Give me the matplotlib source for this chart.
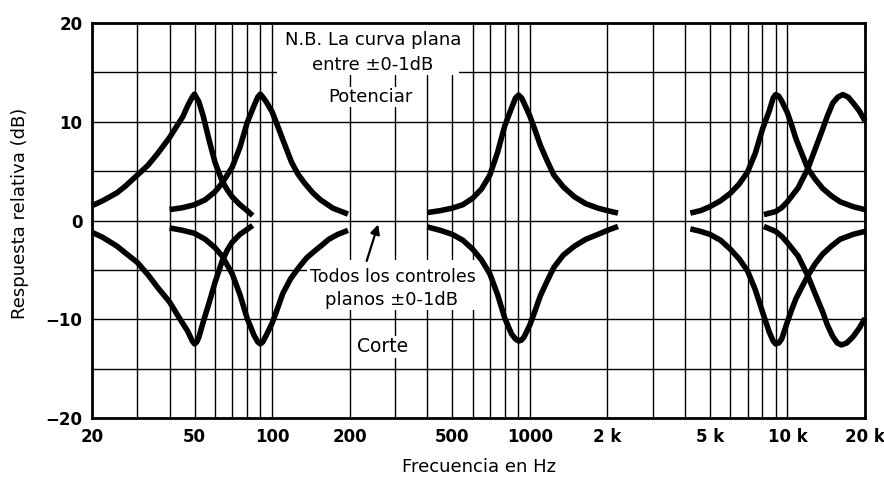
import matplotlib
matplotlib.use("Agg")
import matplotlib.pyplot as plt
from matplotlib.ticker import FixedLocator, NullFormatter, FixedFormatter
from matplotlib.patches import Rectangle

# ---------------- data ----------------
boost_50_f = [20, 22, 25, 27, 30, 33, 36, 40, 43, 45, 47, 49, 50, 52, 54, 57,
              60, 64, 67, 70, 75, 80, 84]
boost_50_db = [1.5, 2.0, 2.8, 3.5, 4.6, 5.6, 6.8, 8.4, 9.7, 10.5, 11.6, 12.5,
               12.8, 12.0, 10.6, 8.1, 5.9, 4.0, 3.1, 2.4, 1.6, 1.0, 0.5]

boost_90_f = [40, 45, 50, 55, 60, 64, 70, 75, 80, 85, 88, 90, 92, 95, 100, 105,
              110, 119, 126, 134, 144, 154, 172, 197]
boost_90_db = [1.1, 1.3, 1.6, 2.1, 2.9, 3.8, 5.4, 7.4, 9.9, 11.6, 12.5, 12.8,
               12.5, 12.0, 11.0, 9.6, 8.2, 5.9, 4.7, 3.75, 2.8, 2.1, 1.25, 0.65]

boost_900_f = [400, 450, 500, 550, 600, 650, 700, 750, 800, 850, 880, 905, 930,
               950, 1000, 1050, 1100, 1170, 1240, 1350, 1490, 1650, 1840, 2000,
               2200]
boost_900_db = [0.8, 1.0, 1.25, 1.6, 2.25, 3.2, 4.6, 6.9, 9.6, 11.4, 12.4, 12.7,
                12.4, 11.9, 10.6, 9.1, 7.6, 6.0, 4.6, 3.4, 2.4, 1.7, 1.25, 1.0,
                0.75]

boost_9k_f = [4200, 4600, 5000, 5500, 6000, 6500, 7000, 7500, 8000, 8500, 8800,
              9000, 9250, 9500, 10000, 10400, 10800, 11400, 12000, 12800, 13700,
              14800, 16000, 18000, 20000]
boost_9k_db = [0.75, 1.0, 1.4, 2.0, 2.75, 3.7, 4.9, 6.8, 9.25, 11.1, 12.4,
               12.75, 12.6, 12.1, 10.9, 9.6, 8.25, 6.7, 5.25, 4.2, 3.25, 2.5,
               1.9, 1.4, 1.1]

boost_16k_f = [8100, 9000, 9500, 10000, 11000, 12000, 12800, 13700, 14300,
               15000, 15700, 16400, 17200, 18000, 19000, 20000]
boost_16k_db = [0.6, 0.9, 1.3, 1.9, 3.3, 5.25, 7.2, 9.25, 10.6, 11.9, 12.5,
                12.75, 12.5, 11.9, 11.1, 10.1]

cut_50_f = [20, 22, 25, 27, 30, 33, 36, 40, 43, 47, 49, 50, 51, 52, 54, 57, 60,
            64, 67, 70, 75, 80, 84]
cut_50_db = [-1.2, -1.7, -2.6, -3.3, -4.25, -5.5, -6.8, -8.25, -9.6, -11.2,
             -12.2, -12.5, -12.3, -11.8, -10.3, -8.3, -6.3, -4.1, -3.0, -2.2,
             -1.4, -0.9, -0.5]

cut_90_f = [40, 45, 50, 55, 60, 64, 70, 75, 80, 85, 88, 90, 92, 95, 100, 105,
            110, 118, 127, 136, 146, 156, 166, 180, 197]
cut_90_db = [-0.75, -1.0, -1.3, -1.9, -2.75, -3.6, -5.4, -7.5, -9.9, -11.6,
             -12.3, -12.5, -12.3, -11.6, -10.4, -8.9, -7.4, -5.9, -4.75, -3.8,
             -3.1, -2.5, -1.9, -1.4, -1.0]

cut_900_f = [400, 450, 500, 550, 600, 650, 700, 750, 800, 850, 880, 905, 930,
             950, 1000, 1050, 1100, 1170, 1240, 1350, 1490, 1650, 1840, 2000,
             2200]
cut_900_db = [-0.65, -1.0, -1.4, -2.0, -2.9, -4.0, -5.4, -7.5, -9.9, -11.5,
              -12.0, -12.2, -12.1, -11.8, -10.6, -9.1, -7.6, -6.1, -4.75, -3.5,
              -2.6, -1.9, -1.4, -1.0, -0.6]

cut_9k_f = [4200, 4600, 5000, 5500, 6000, 6500, 7000, 7500, 8000, 8500, 8800,
            9000, 9250, 9500, 10000, 10400, 10800, 11400, 12000, 12800, 13700,
            14800, 16000, 18000, 20000]
cut_9k_db = [-0.85, -1.1, -1.4, -2.0, -2.9, -3.9, -5.1, -7.0, -9.25, -11.3,
             -12.2, -12.5, -12.4, -12.0, -10.25, -9.0, -7.9, -6.7, -5.6, -4.4,
             -3.4, -2.6, -1.9, -1.4, -1.1]

cut_16k_f = [8100, 9000, 9500, 10000, 11000, 12000, 12800, 13700, 14300, 15000,
             15600, 16200, 17000, 18000, 19000, 20000]
cut_16k_db = [-0.6, -1.1, -1.6, -2.25, -3.6, -5.6, -7.4, -9.25, -10.6, -11.75,
              -12.4, -12.6, -12.4, -11.75, -10.9, -9.9]

x_ticks = [20, 50, 100, 200, 500, 1000, 2000, 5000, 10000, 20000]
x_tick_labels = ["20", "50", "100", "200", "500", "1000", "2 k", "5 k", "10 k", "20 k"]
x_grid = [m * d for d in (10, 100, 1000, 10000) for m in range(1, 10)
          if 20 <= m * d <= 20000]
y_ticks = [-20, -10, 0, 10, 20]
y_tick_labels = ["\u221220", "\u221210", "0", "10", "20"]
y_grid = [-20, -15, -10, -5, 0, 5, 10, 15, 20]

# ---------------- figure ----------------
fig = plt.figure(figsize=(8.84, 4.78), dpi=100)
ax = fig.add_axes([92 / 884, 1 - 418 / 478, 773 / 884, 395 / 478])
ax.set_xscale("log")
ax.set_xlim(20, 20000)
ax.set_ylim(-20, 20)

ax.xaxis.set_major_locator(FixedLocator(x_ticks))
ax.xaxis.set_major_formatter(FixedFormatter(x_tick_labels))
ax.xaxis.set_minor_locator(FixedLocator(x_grid))
ax.xaxis.set_minor_formatter(NullFormatter())
ax.yaxis.set_major_locator(FixedLocator(y_ticks))
ax.yaxis.set_major_formatter(FixedFormatter(y_tick_labels))
ax.yaxis.set_minor_locator(FixedLocator(y_grid))

ax.tick_params(which="both", length=0)
ax.tick_params(axis="x", pad=7, labelsize=12)
ax.tick_params(axis="y", pad=7, labelsize=12)
for lab in ax.get_xticklabels() + ax.get_yticklabels():
    lab.set_fontweight("bold")

ax.set_axisbelow(True)
ax.grid(True, which="both", color="black", linewidth=1.0)
for sp in ax.spines.values():
    sp.set_linewidth(2.0)
    sp.set_zorder(5)

# white areas behind the notes
ax.add_patch(Rectangle((104.5, 14.7), 531 - 104.5, 5.3, facecolor="white",
                       edgecolor="none", zorder=1))
ax.add_patch(Rectangle((136.6, -9.05), 670 - 136.6, 5.0, facecolor="white",
                       edgecolor="none", zorder=1))

curves = [
    (boost_50_f, boost_50_db), (boost_90_f, boost_90_db),
    (boost_900_f, boost_900_db), (boost_9k_f, boost_9k_db),
    (boost_16k_f, boost_16k_db),
    (cut_50_f, cut_50_db), (cut_90_f, cut_90_db),
    (cut_900_f, cut_900_db), (cut_9k_f, cut_9k_db),
    (cut_16k_f, cut_16k_db),
]
for f, db in curves:
    ax.plot(f, db, color="black", linewidth=4.0, solid_joinstyle="round",
            solid_capstyle="butt", zorder=3, clip_on=False)

# notes
tkw = dict(transform=ax.transAxes, ha="center", va="center", zorder=4)
ax.text(0.3635, 0.957, "N.B. La curva plana", fontsize=13, **tkw)
ax.text(0.3635, 0.894, "entre \u00b10-1dB", fontsize=13, **tkw)
ax.text(0.360, 0.8127, "Potenciar", fontsize=13,
        bbox=dict(facecolor="white", edgecolor="none", pad=1), **tkw)
ax.text(0.389, 0.357, "Todos los controles", fontsize=12.5, **tkw)
ax.text(0.388, 0.299, "planos \u00b10-1dB", fontsize=13, **tkw)
ax.text(0.376, 0.180, "Corte", fontsize=13.5,
        bbox=dict(facecolor="white", edgecolor="none", pad=1), **tkw)

ax.annotate("", xy=(258, -0.4), xytext=(232.8, -4.1),
            arrowprops=dict(arrowstyle="-|>", color="black", lw=1.6,
                            mutation_scale=14, shrinkA=0, shrinkB=0),
            zorder=4)

fig.text(479 / 884, 1 - 467 / 478, "Frecuencia en Hz", ha="center",
         va="center", fontsize=13)
fig.text(20 / 884, 1 - 213 / 478, "Respuesta relativa (dB)", ha="center",
         va="center", rotation=90, fontsize=13)

fig.savefig("out.png", dpi=100, facecolor="white")
